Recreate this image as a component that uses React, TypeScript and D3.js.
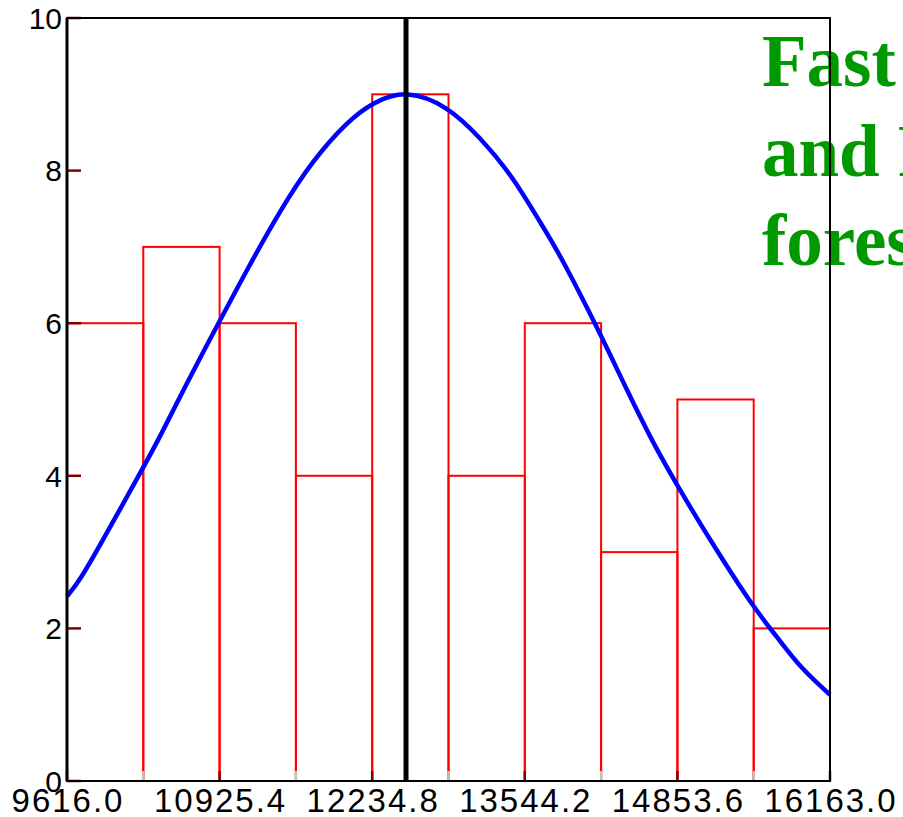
import React, { useEffect, useRef } from 'react';
import * as d3 from 'd3';

// histogram bins (edges) and counts
const binEdges = [9616.0, 10270.7, 10925.4, 11580.1, 12234.8, 12889.5, 13544.2, 14198.9, 14853.6, 15508.3, 16163.0];
const binCounts = [6, 7, 6, 4, 9, 4, 6, 3, 5, 2];
const xTickLabels = ['9616.0', '10925.4', '12234.8', '13544.2', '14853.6', '16163.0'];
const yTicks = [0, 2, 4, 6, 8, 10];
const meanValue = 12525;

// fitted curve, points
const curveX = [9616, 9728, 9925, 10260, 10414, 10611, 10929, 11161, 11444, 11727, 12019, 12242, 12533,
  12877, 13160, 13443, 13700, 13846, 14190, 14421, 14644, 14876, 15133, 15502, 15708, 15905, 16163];
const curveY = [2.42, 2.63, 3.16, 4.08, 4.51, 5.12, 6.04, 6.7, 7.48, 8.14, 8.64, 8.9, 9.06,
  8.85, 8.44, 7.92, 7.26, 6.9, 5.87, 5.12, 4.43, 3.81, 3.16, 2.28, 1.89, 1.49, 1.13];

const titleLines = ['Fast', 'and Robust', 'forests'];

export default function App() {
  const ref = useRef<SVGSVGElement>(null);

  useEffect(() => {
    const width = 903, height = 817;
    const margin = { top: 18, right: 73, bottom: 36, left: 67 };
    const svg = d3.select(ref.current);
    svg.selectAll('*').remove();

    const x = d3.scaleLinear().domain([binEdges[0], binEdges[binEdges.length - 1]])
      .range([margin.left, width - margin.right]);
    const y = d3.scaleLinear().domain([0, 10]).range([height - margin.bottom, margin.top]);

    // title text (clipped by the svg edge)
    const title = svg.append('text')
      .attr('font-family', '"Liberation Serif", "Times New Roman", serif')
      .attr('font-weight', 'bold')
      .attr('font-size', 73)
      .attr('fill', '#009900');
    titleLines.forEach((t, i) => {
      title.append('tspan').attr('x', 762).attr('y', 86 + i * 89.5).text(t);
    });

    // bars
    svg.append('g').selectAll('rect')
      .data(binCounts)
      .enter()
      .append('rect')
      .attr('x', (d, i) => x(binEdges[i]))
      .attr('y', d => y(d))
      .attr('width', (d, i) => x(binEdges[i + 1]) - x(binEdges[i]))
      .attr('height', d => y(0) - y(d))
      .attr('fill', 'none')
      .attr('stroke', '#ff0000')
      .attr('stroke-width', 2);

    // fitted curve
    const pts = curveX.map((v, i) => [v, curveY[i]] as [number, number]);
    const line = d3.line<[number, number]>()
      .x(d => x(d[0]))
      .y(d => y(d[1]))
      .curve(d3.curveBasis);
    svg.append('path')
      .datum(pts)
      .attr('d', line)
      .attr('fill', 'none')
      .attr('stroke', '#0000ff')
      .attr('stroke-width', 4.5)
      .attr('stroke-linejoin', 'round');

    // mean line
    svg.append('line')
      .attr('x1', x(meanValue)).attr('x2', x(meanValue))
      .attr('y1', y(10)).attr('y2', y(0))
      .attr('stroke', '#000').attr('stroke-width', 5);

    // x ticks at bin edges
    svg.append('g').selectAll('line')
      .data(binEdges)
      .enter()
      .append('line')
      .attr('x1', d => x(d)).attr('x2', d => x(d))
      .attr('y1', y(0)).attr('y2', y(0) - 10)
      .attr('stroke', (d, i) => (i % 2 === 0 ? '#800000' : '#c0c0c0'))
      .attr('stroke-width', 2.5);

    // y ticks
    svg.append('g').selectAll('line')
      .data(yTicks)
      .enter()
      .append('line')
      .attr('x1', margin.left).attr('x2', margin.left + 14)
      .attr('y1', d => y(d)).attr('y2', d => y(d))
      .attr('stroke', '#800000')
      .attr('stroke-width', 2.5);

    // frame
    svg.append('rect')
      .attr('x', x.range()[0]).attr('y', y(10))
      .attr('width', x.range()[1] - x.range()[0])
      .attr('height', y(0) - y(10))
      .attr('fill', 'none')
      .attr('stroke', '#000')
      .attr('stroke-width', 2);
    svg.append('line')
      .attr('x1', margin.left).attr('x2', margin.left)
      .attr('y1', y(10)).attr('y2', y(0))
      .attr('stroke', '#000').attr('stroke-width', 3);

    // labels
    svg.append('g').selectAll('text')
      .data(yTicks)
      .enter()
      .append('text')
      .attr('x', 62)
      .attr('y', d => y(d))
      .attr('dy', '0.36em')
      .attr('text-anchor', 'end')
      .attr('font-family', '"Liberation Sans", Arial, sans-serif')
      .attr('font-size', 30)
      .text(d => d);

    svg.append('g').selectAll('text')
      .data(xTickLabels)
      .enter()
      .append('text')
      .attr('x', d => x(+d) + 1)
      .attr('y', 812)
      .attr('text-anchor', 'middle')
      .attr('font-family', '"Liberation Sans", Arial, sans-serif')
      .attr('font-size', 33)
      .attr('letter-spacing', 2)
      .text(d => d);
  }, []);

  return (
    <svg ref={ref} width={903} height={817}
      style={{ position: 'absolute', left: 0, top: 0, background: '#fff', overflow: 'hidden' }} />
  );
}
